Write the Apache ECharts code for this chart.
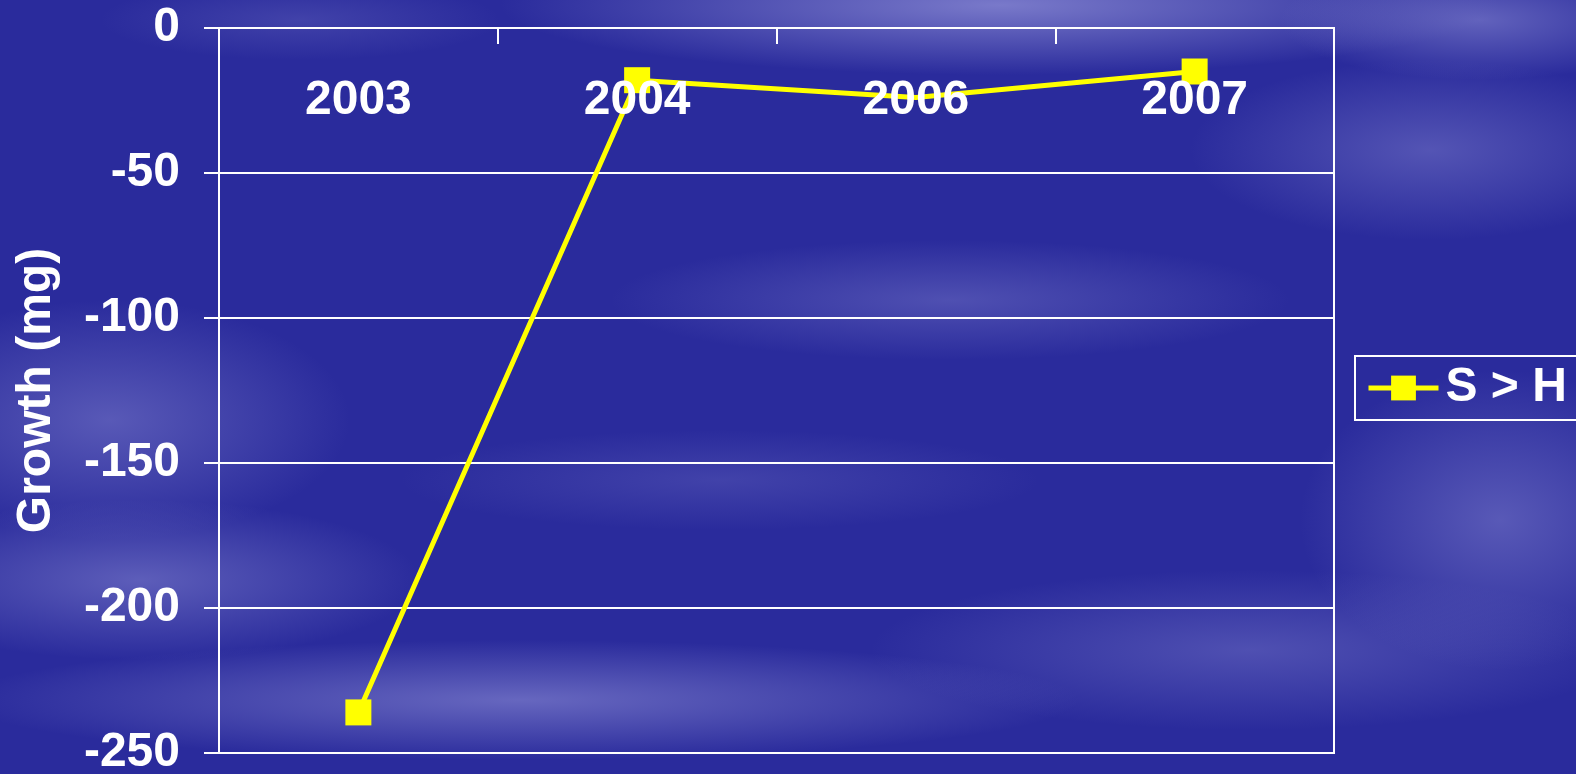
<!DOCTYPE html>
<html>
<head>
<meta charset="utf-8">
<script src="https://cdn.jsdelivr.net/npm/echarts@6/dist/echarts.min.js"></script>
<style>
  html, body { margin: 0; padding: 0; }
  #chart { width: 1576px; height: 774px; background: #2a2b9c; }
</style>
</head>
<body>
<div id="chart"></div>
<script>
var years = ["2003", "2004", "2006", "2007"]
var growthSH = [-236, -18, -24, -15]
var yTicks = { min: -250, max: 0, step: 50 }
var seriesName = "S > H"

var chart = echarts.init(document.getElementById("chart"))

// soft light streaks for the cloudy background (decoration only)
function cloud(cx, cy, rx, ry, alpha) {
    return {
        type: "circle",
        silent: true,
        z: -10,
        x: cx,
        y: cy,
        scaleX: rx / ry,
        scaleY: 1,
        shape: { cx: 0, cy: 0, r: ry },
        style: {
            fill: new echarts.graphic.RadialGradient(0.5, 0.5, 0.5, [
                { offset: 0, color: "rgba(135,135,210," + alpha + ")" },
                { offset: 1, color: "rgba(135,135,210,0)" }
            ])
        }
    }
}

var clouds = [
    cloud(1000, 5, 500, 70, 0.85),
    cloud(1480, 20, 200, 60, 0.6),
    cloud(1430, 150, 240, 90, 0.45),
    cloud(950, 300, 340, 60, 0.4),
    cloud(110, 420, 240, 120, 0.5),
    cloud(140, 580, 280, 80, 0.55),
    cloud(520, 700, 560, 60, 0.65),
    cloud(1250, 650, 380, 80, 0.4),
    cloud(1500, 520, 200, 150, 0.5),
    cloud(720, 480, 320, 50, 0.25),
    cloud(300, 20, 200, 40, 0.25)
]

var seriesData = growthSH.map(function (v, i) {
    // the 2006 point shows no marker in the original
    return years[i] === "2006" ? { value: v, symbol: "none" } : v
})

var option = {
    backgroundColor: "#2a2b9c",
    textStyle: { fontFamily: "Liberation Sans, Arial, sans-serif" },
    graphic: clouds,
    grid: {
        left: 219,
        top: 28,
        right: 242,
        bottom: 21,
        containLabel: false,
        outerBoundsMode: "none",
        show: true,
        borderColor: "#ffffff",
        borderWidth: 2,
        backgroundColor: "transparent"
    },
    legend: {
        show: true,
        left: 1355,
        top: 356,
        padding: [8, 12, 8, 11],
        borderColor: "#ffffff",
        borderWidth: 2,
        itemWidth: 70,
        itemHeight: 31,
        itemGap: 0,
        data: [seriesName],
        lineStyle: { width: 5 },
        textStyle: {
            color: "#ffffff",
            fontSize: 48,
            fontWeight: "bold",
            padding: [0, 0, 0, 2]
        }
    },
    xAxis: {
        type: "category",
        position: "top",
        data: years,
        boundaryGap: true,
        z: 10,
        axisLine: { show: true, lineStyle: { color: "#ffffff", width: 2 } },
        axisTick: { show: true, inside: true, length: 16, lineStyle: { color: "#ffffff", width: 2 } },
        axisLabel: {
            inside: true,
            margin: 49,
            color: "#ffffff",
            fontSize: 48,
            fontWeight: "bold"
        },
        splitLine: { show: false }
    },
    yAxis: {
        type: "value",
        min: yTicks.min,
        max: yTicks.max,
        interval: yTicks.step,
        name: "Growth (mg)",
        nameLocation: "middle",
        nameGap: 158,
        nameRotate: 90,
        nameTextStyle: { color: "#ffffff", fontSize: 48, fontWeight: "bold" },
        axisLine: { show: true, lineStyle: { color: "#ffffff", width: 2 } },
        axisTick: { show: true, inside: false, length: 15, lineStyle: { color: "#ffffff", width: 2 } },
        axisLabel: { margin: 39, color: "#ffffff", fontSize: 48, fontWeight: "bold" },
        splitLine: { show: true, lineStyle: { color: "#ffffff", width: 2 } }
    },
    series: [
        {
            name: seriesName,
            type: "line",
            data: seriesData,
            symbol: "rect",
            symbolSize: 26,
            itemStyle: { color: "#ffff00" },
            lineStyle: { color: "#ffff00", width: 5 },
            z: 3
        }
    ],
    animation: false
}

chart.setOption(option)
</script>
</body>
</html>
